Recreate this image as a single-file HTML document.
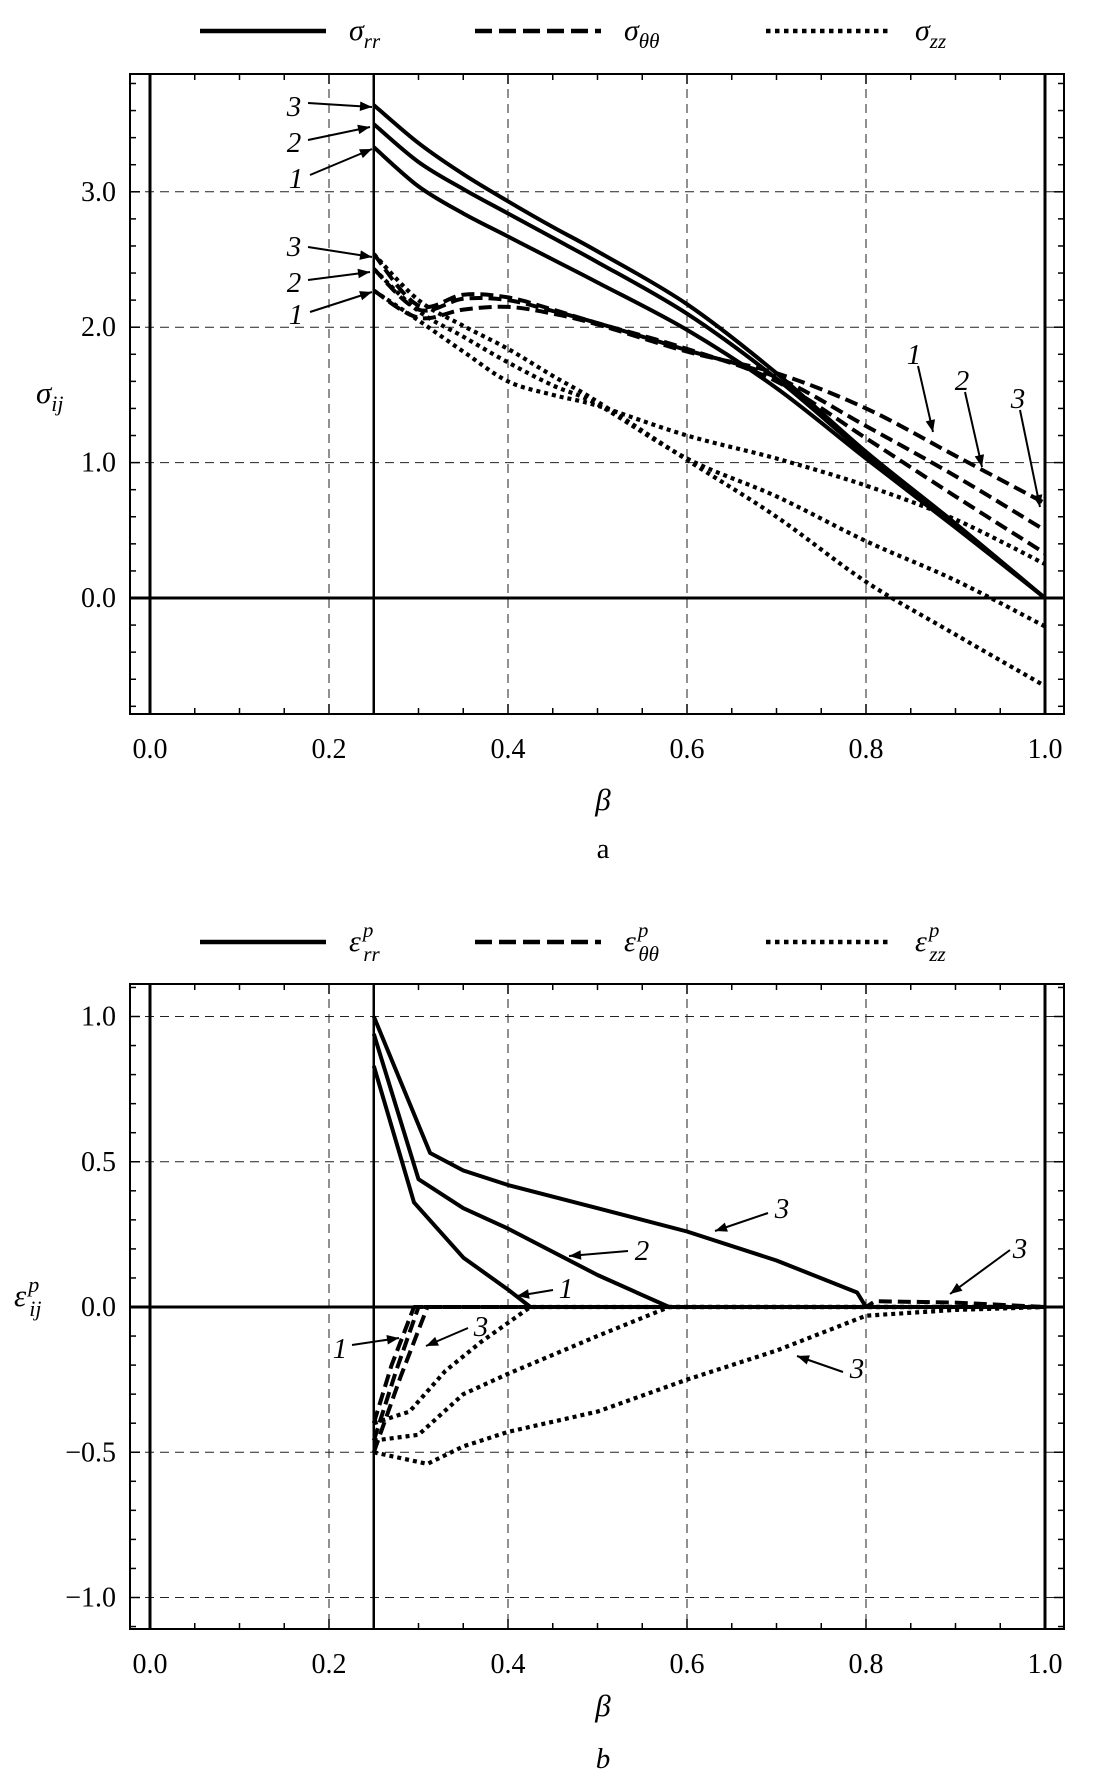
<!DOCTYPE html>
<html><head><meta charset="utf-8"><style>
html,body{margin:0;padding:0;background:#fff;}
svg{display:block;}
text{font-family:"Liberation Serif","DejaVu Serif",serif;fill:#000;}
</style></head><body>
<svg id="fig" width="1098" height="1776" viewBox="0 0 1098 1776" xmlns="http://www.w3.org/2000/svg"></svg>
<script>
// ---------- Panel a data ----------
const betaA = [0.25,0.3,0.35,0.4,0.45,0.5,0.6,0.7,0.8,0.9,1.0];
const sigRR1 = [3.33,3.04,2.84,2.67,2.50,2.33,1.98,1.55,1.03,0.52,0];
const sigRR2 = [3.50,3.22,3.02,2.84,2.66,2.48,2.10,1.62,1.06,0.53,0];
const sigRR3 = [3.64,3.36,3.13,2.93,2.74,2.56,2.17,1.66,1.08,0.55,0];
const sigTT1 = [2.27,2.07,2.13,2.15,2.10,2.02,1.82,1.66,1.40,1.05,0.70];
const sigTT2 = [2.43,2.13,2.21,2.20,2.12,2.03,1.83,1.63,1.27,0.90,0.50];
const sigTT3 = [2.54,2.16,2.24,2.22,2.13,2.03,1.84,1.60,1.18,0.75,0.33];
const sigZZ1 = [2.27,2.05,1.82,1.60,1.50,1.42,1.20,1.03,0.83,0.58,0.25];
const sigZZ2 = [2.43,2.12,1.93,1.74,1.57,1.43,1.03,0.75,0.42,0.13,-0.21];
const sigZZ3 = [2.54,2.20,2.01,1.84,1.64,1.45,1.02,0.60,0.12,-0.27,-0.65];
const xTicksA = [0.0,0.2,0.4,0.6,0.8,1.0];
const yTicksA = [0.0,1.0,2.0,3.0];
// ---------- Panel b data ----------
const betaRR1 = [0.25,0.295,0.35,0.4,0.425,1.0];
const epsRR1 = [0.83,0.36,0.17,0.06,0,0];
const betaRR2 = [0.25,0.30,0.35,0.4,0.5,0.58,1.0];
const epsRR2 = [0.94,0.44,0.34,0.27,0.11,0,0];
const betaRR3 = [0.25,0.313,0.35,0.4,0.5,0.6,0.7,0.79,0.80,1.0];
const epsRR3 = [1.0,0.53,0.47,0.42,0.34,0.26,0.16,0.05,0.0,0.0];
const betaTT1 = [0.25,0.27,0.295,1.0];
const epsTT1 = [-0.40,-0.20,0,0];
const betaTT2 = [0.25,0.275,0.30,1.0];
const epsTT2 = [-0.46,-0.22,0,0];
const betaTT3 = [0.25,0.28,0.31,0.8,0.81,0.9,1.0];
const epsTT3 = [-0.50,-0.24,0,0,0.02,0.015,0];
const betaZZ1 = [0.25,0.29,0.33,0.37,0.425,1.0];
const epsZZ1 = [-0.40,-0.36,-0.22,-0.12,0,0];
const betaZZ2 = [0.25,0.30,0.35,0.4,0.5,0.58,1.0];
const epsZZ2 = [-0.46,-0.44,-0.30,-0.23,-0.10,0,0];
const betaZZ3 = [0.25,0.31,0.35,0.4,0.5,0.6,0.7,0.8,0.9,1.0];
const epsZZ3 = [-0.50,-0.54,-0.48,-0.43,-0.36,-0.25,-0.15,-0.03,-0.01,0];
const xTicksB = [0.0,0.2,0.4,0.6,0.8,1.0];
const yTicksB = [-1.0,-0.5,0.0,0.5,1.0];

const NS = "http://www.w3.org/2000/svg";
const svg = document.getElementById('fig');
function el(tag, attrs, parent){
  const e = document.createElementNS(NS, tag);
  for (const k in attrs) e.setAttribute(k, attrs[k]);
  (parent||svg).appendChild(e);
  return e;
}
const defs = el('defs',{});
const mk = el('marker',{id:'ah',viewBox:'0 0 10 10',refX:'10',refY:'5',markerWidth:'16',markerHeight:'12',orient:'auto',markerUnits:'userSpaceOnUse'},defs);
el('path',{d:'M0,1 L10,5 L0,9 Z',fill:'#000'},mk);

function smoothPath(P){
  let d='M'+P[0][0].toFixed(1)+','+P[0][1].toFixed(1);
  for(let i=0;i<P.length-1;i++){
    const p0=P[Math.max(0,i-1)],p1=P[i],p2=P[i+1],p3=P[Math.min(P.length-1,i+2)];
    const c1=[p1[0]+(p2[0]-p0[0])/6,p1[1]+(p2[1]-p0[1])/6];
    const c2=[p2[0]-(p3[0]-p1[0])/6,p2[1]-(p3[1]-p1[1])/6];
    d+=' C'+c1[0].toFixed(1)+','+c1[1].toFixed(1)+' '+c2[0].toFixed(1)+','+c2[1].toFixed(1)+' '+p2[0].toFixed(1)+','+p2[1].toFixed(1);
  }
  return d;
}

function makePanel(cfg){
  const g = el('g',{});
  
  
  const X = b => 150 + b*895;
  const Y = v => cfg.y0 - v*cfg.unit;
  const L=130,R=1064,T=cfg.top,B=cfg.bottom;
  [0.2,0.4,0.6,0.8].forEach(b=>{
    const l=el('line',{x1:X(b),x2:X(b),y1:T,y2:B,stroke:'#222','stroke-width':1,'stroke-dasharray':'9,6'},g);
    
    
  });
  cfg.yTicks.forEach(v=>{
    if (v===0) return;
    const l=el('line',{x1:L,x2:R,y1:Y(v),y2:Y(v),stroke:'#222','stroke-width':1,'stroke-dasharray':'9,6'},g);
    
    
  });
  [[0,3],[0.25,2.5],[1,3]].forEach(([b,w])=>{
    const l=el('line',{x1:X(b),x2:X(b),y1:T,y2:B,stroke:'#000','stroke-width':w},g);
    
    
  });
  const z=el('line',{x1:L,x2:R,y1:Y(0),y2:Y(0),stroke:'#000','stroke-width':3},g);
  
  
  const fr=el('rect',{x:L,y:T,width:R-L,height:B-T,fill:'none',stroke:'#000','stroke-width':2},g);
  
  
  for(let i=0;i<=20;i++){
    const b=i*0.05, maj=(i%4===0), len=maj?10:6;
    el('line',{x1:X(b),x2:X(b),y1:B,y2:B-len,stroke:'#000','stroke-width':1.5},g);
    el('line',{x1:X(b),x2:X(b),y1:T,y2:T+len,stroke:'#000','stroke-width':1.5},g);
  }
  cfg.xTicks.forEach(b=>{
    const t=el('text',{x:X(b),y:B+44,'font-size':28,'text-anchor':'middle'},g);
    t.textContent=b.toFixed(1);
    
    
  });
  for(let v=cfg.yMin; v<=cfg.yMax+1e-9; v+=cfg.minor){
    const vv=Math.round(v*1000)/1000;
    const maj=cfg.yTicks.some(t=>Math.abs(t-vv)<1e-6), len=maj?10:6;
    if (Y(vv)<T||Y(vv)>B) continue;
    el('line',{x1:L,x2:L+len,y1:Y(vv),y2:Y(vv),stroke:'#000','stroke-width':1.5},g);
    el('line',{x1:R,x2:R-len,y1:Y(vv),y2:Y(vv),stroke:'#000','stroke-width':1.5},g);
  }
  cfg.yTicks.forEach(v=>{
    const t=el('text',{x:116,y:Y(v)+9,'font-size':28,'text-anchor':'end'},g);
    t.textContent=(v<0?'\u2212':'')+Math.abs(v).toFixed(1);
    
    
  });
  cfg.series.forEach(s=>{
    const P=s.x.map((b,i)=>[X(b),Y(s.y[i])]);
    const attrs={fill:'none',stroke:'#000','stroke-width':s.style==='dot'?4.2:4,'stroke-linejoin':'round','stroke-dasharray':s.style==='dash'?'13,6':(s.style==='dot'?'4,4':'none')};
    let p;
    if(cfg.smooth){ attrs.d=smoothPath(P); p=el('path',attrs,g); }
    else { attrs.points=P.map(q=>q[0].toFixed(1)+','+q[1].toFixed(1)).join(' '); p=el('polyline',attrs,g); }
    
    
  });
  return g;
}

function legend(y, labels, sup){
  const styles=['none','17,7','4.5,4.5'];
  const xs=[200,475,766];
  labels.forEach((lab,i)=>{
    const l=el('line',{x1:xs[i],x2:xs[i]+126,y1:y,y2:y,stroke:'#000','stroke-width':4.5,'stroke-dasharray':styles[i]});
    
    
    const t=el('text',{x:xs[i]+149,y:y+9,'font-size':30,'font-style':'italic'});
    
    
    const a=el('tspan',{},t); a.textContent=lab[0];
    if(sup){const s=el('tspan',{'font-size':21,dy:-14,dx:2},t); s.textContent='p';
      const b=el('tspan',{'font-size':21,dy:24,dx:-10},t); b.textContent=lab[1];}
    else {const b=el('tspan',{'font-size':21,dy:8},t); b.textContent=lab[1];}
  });
}

function arrow(x1,y1,x2,y2,label,lx,ly){
  const l=el('line',{x1,y1,x2,y2,stroke:'#000','stroke-width':2,'marker-end':'url(#ah)'});
  
  
  const t=el('text',{x:lx,y:ly,'font-size':29,'font-style':'italic','text-anchor':'middle'});
  t.textContent=label;
  
  
}

// Panel a
legend(31,[['σ','rr'],['σ','θθ'],['σ','zz']],false);
makePanel({name:'panel-a',smooth:true,y0:598,unit:135.4,top:74,bottom:714,yMin:-0.8,yMax:3.8,minor:0.2,yTicks:yTicksA,xTicks:xTicksA,
 series:[
  {name:'sigma-rr-1',x:betaA,y:sigRR1,style:'solid'},
  {name:'sigma-rr-2',x:betaA,y:sigRR2,style:'solid'},
  {name:'sigma-rr-3',x:betaA,y:sigRR3,style:'solid'},
  {name:'sigma-tt-1',x:betaA,y:sigTT1,style:'dash'},
  {name:'sigma-tt-2',x:betaA,y:sigTT2,style:'dash'},
  {name:'sigma-tt-3',x:betaA,y:sigTT3,style:'dash'},
  {name:'sigma-zz-1',x:betaA,y:sigZZ1,style:'dot'},
  {name:'sigma-zz-2',x:betaA,y:sigZZ2,style:'dot'},
  {name:'sigma-zz-3',x:betaA,y:sigZZ3,style:'dot'}
 ]});
arrow(308,103,372,107,'3',294,116);
arrow(308,140,370,127,'2',294,152);
arrow(310,175,372,149,'1',296,188);
arrow(308,247,372,257,'3',294,256);
arrow(308,280,370,272,'2',294,292);
arrow(310,312,372,292,'1',296,324);
arrow(918,366,933,432,'1',914,364);
arrow(965,392,982,467,'2',962,390);
arrow(1020,410,1040,507,'3',1018,408);
let t=el('text',{x:36,y:403,'font-size':31,'font-style':'italic'});


el('tspan',{},t).textContent='σ';
let ts=el('tspan',{'font-size':22,dy:8},t); ts.textContent='ij';
t=el('text',{x:603,y:810,'font-size':31,'font-style':'italic','text-anchor':'middle'});
t.textContent='β';  
t=el('text',{x:603,y:858,'font-size':29,'text-anchor':'middle'});
t.textContent='a';  

// Panel b
legend(942,[['ε','rr'],['ε','θθ'],['ε','zz']],true);
makePanel({name:'panel-b',y0:1307,unit:290.5,top:984,bottom:1629,yMin:-1.1,yMax:1.1,minor:0.1,yTicks:yTicksB,xTicks:xTicksB,
 series:[
  {name:'eps-rr-1',x:betaRR1,y:epsRR1,style:'solid'},
  {name:'eps-rr-2',x:betaRR2,y:epsRR2,style:'solid'},
  {name:'eps-rr-3',x:betaRR3,y:epsRR3,style:'solid'},
  {name:'eps-tt-1',x:betaTT1,y:epsTT1,style:'dash'},
  {name:'eps-tt-2',x:betaTT2,y:epsTT2,style:'dash'},
  {name:'eps-tt-3',x:betaTT3,y:epsTT3,style:'dash'},
  {name:'eps-zz-1',x:betaZZ1,y:epsZZ1,style:'dot'},
  {name:'eps-zz-2',x:betaZZ2,y:epsZZ2,style:'dot'},
  {name:'eps-zz-3',x:betaZZ3,y:epsZZ3,style:'dot'}
 ]});
arrow(768,1213,715,1231,'3',782,1218);
arrow(628,1251,569,1256,'2',642,1260);
arrow(553,1290,517,1296,'1',566,1298);
arrow(1010,1250,950,1294,'3',1020,1258);
arrow(352,1345,399,1338,'1',340,1358);
arrow(468,1328,426,1346,'3',481,1336);
arrow(843,1372,797,1356,'3',857,1378);
t=el('text',{x:14,y:1306,'font-size':31,'font-style':'italic'});


el('tspan',{},t).textContent='ε';
ts=el('tspan',{'font-size':22,dy:-14,dx:2},t); ts.textContent='p';
ts=el('tspan',{'font-size':22,dy:24,dx:-10},t); ts.textContent='ij';
t=el('text',{x:603,y:1716,'font-size':31,'font-style':'italic','text-anchor':'middle'});
t.textContent='β';  
t=el('text',{x:603,y:1768,'font-size':29,'font-style':'italic','text-anchor':'middle'});
t.textContent='b';  
</script>
</body></html>
